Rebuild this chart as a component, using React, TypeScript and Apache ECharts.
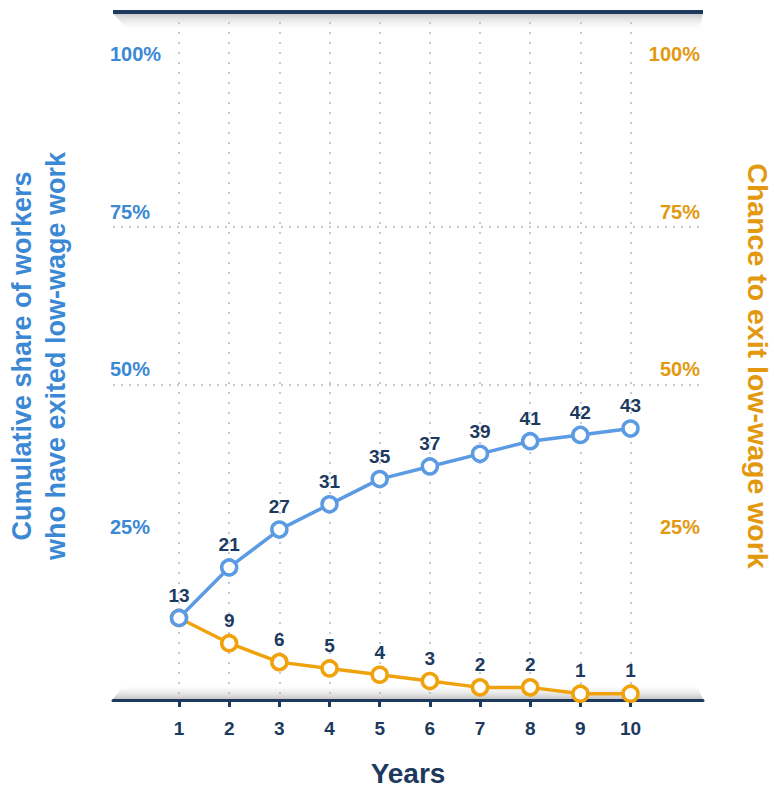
import React, { useEffect, useRef } from "react";
import * as echarts from "echarts";

// Years since entering low-wage work
const years = [1, 2, 3, 4, 5, 6, 7, 8, 9, 10];
// Cumulative share of workers who have exited low-wage work (%)
const cumulativeExit = [13, 21, 27, 31, 35, 37, 39, 41, 42, 43];
// Chance to exit low-wage work in a given year (%)
const chanceToExit = [13, 9, 6, 5, 4, 3, 2, 2, 1, 1];
// Percent gridlines / labels on both vertical axes
const percentTicks = [25, 50, 75, 100];

const NAVY = "#1d3a5e";
const BLUE = "#5b9be3";
const BLUE_TEXT = "#3b88d4";
const ORANGE = "#f0a20c";
const ORANGE_TEXT = "#e3990f";
const GRID_DOT = "#bfcbd8";
const FONT = "'Liberation Sans', Arial, Helvetica, sans-serif";

const GRID = { left: 113, right: 71, top: 12, bottom: 88 };

export default function App() {
  const ref = useRef<HTMLDivElement>(null);

  useEffect(() => {
    if (!ref.current) return;
    const chart = echarts.init(ref.current, undefined, { renderer: "svg" });

    const W = 774;
    const H = 788;
    const x0 = GRID.left;
    const x1 = W - GRID.right;
    const yTop = GRID.top;
    const yBottom = H - GRID.bottom;

    const dataLabel = {
      show: true,
      position: "top" as const,
      distance: 4,
      fontSize: 19,
      fontWeight: "bold" as const,
      fontFamily: FONT,
      color: NAVY,
    };

    const percentLabel = {
      customValues: percentTicks,
      inside: true,
      verticalAlign: "bottom" as const,
      lineHeight: 20,
      padding: [0, 0, 5, 0],
      fontSize: 20,
      fontWeight: "bold" as const,
      fontFamily: FONT,
      formatter: "{value}%",
    };

    chart.setOption({
      animation: false,
      backgroundColor: "#ffffff",
      textStyle: { fontFamily: FONT },
      grid: { ...GRID, containLabel: false, outerBoundsMode: "none" },
      xAxis: {
        type: "value",
        min: -0.316,
        max: 11.445,
        name: "Years",
        nameLocation: "middle",
        nameGap: 59,
        nameTextStyle: {
          fontSize: 28,
          fontWeight: "bold",
          color: NAVY,
          fontFamily: FONT,
          lineHeight: 28,
        },
        axisLine: { show: true, lineStyle: { color: NAVY, width: 3 } },
        axisTick: {
          show: true,
          customValues: years,
          length: 7,
          lineStyle: { color: NAVY, width: 3 },
        },
        axisLabel: {
          customValues: years,
          margin: 19,
          fontSize: 19,
          fontWeight: "bold",
          color: NAVY,
          fontFamily: FONT,
        },
        splitLine: {
          show: true,
          lineStyle: { color: GRID_DOT, width: 2, type: [2, 8] },
        },
      },
      yAxis: [
        {
          type: "value",
          position: "left",
          min: 0,
          max: 109,
          interval: 25,
          name: "Cumulative share of workers\nwho have exited low-wage work",
          nameLocation: "middle",
          nameGap: 40,
          nameRotate: 90,
          nameTextStyle: {
            fontSize: 27,
            fontWeight: "bold",
            color: BLUE_TEXT,
            fontFamily: FONT,
            lineHeight: 34,
            align: "center",
          },
          axisLine: { show: false },
          axisTick: { show: false, customValues: percentTicks },
          axisLabel: { ...percentLabel, margin: -3, color: BLUE_TEXT },
          splitLine: {
            show: true,
            showMinLine: false,
            showMaxLine: false,
            lineStyle: { color: GRID_DOT, width: 2, type: [2, 6] },
          },
        },
        {
          type: "value",
          position: "right",
          min: 0,
          max: 109,
          interval: 25,
          axisLine: { show: false },
          axisTick: { show: false, customValues: percentTicks },
          axisLabel: { ...percentLabel, margin: 3, color: ORANGE_TEXT },
          splitLine: { show: false },
        },
      ],
      graphic: [
        // soft shadow under the top rule
        {
          type: "polygon",
          z: 1,
          silent: true,
          shape: {
            points: [
              [x0, yTop + 1],
              [x1, yTop + 1],
              [x1 - 4, yTop + 20],
              [x0 + 16, yTop + 20],
            ],
          },
          style: {
            fill: new echarts.graphic.LinearGradient(0, 0, 0, 1, [
              { offset: 0, color: "rgba(140,140,140,0.5)" },
              { offset: 1, color: "rgba(255,255,255,0)" },
            ]),
          },
        },
        // top rule
        {
          type: "line",
          z: 10,
          silent: true,
          shape: { x1: x0, y1: yTop, x2: x1, y2: yTop },
          style: { stroke: NAVY, lineWidth: 4 },
        },
        // soft shading above the baseline
        {
          type: "polygon",
          z: 1,
          silent: true,
          shape: {
            points: [
              [x0 + 10, yBottom - 14],
              [x1 - 6, yBottom - 14],
              [x1, yBottom - 1],
              [x0, yBottom - 1],
            ],
          },
          style: {
            fill: new echarts.graphic.LinearGradient(0, 0, 0, 1, [
              { offset: 0, color: "rgba(215,215,215,0)" },
              { offset: 1, color: "rgba(160,160,160,0.6)" },
            ]),
          },
        },
        // right-hand axis title, reading top to bottom
        {
          type: "text",
          z: 10,
          silent: true,
          x: 758,
          y: 366,
          rotation: -Math.PI / 2,
          style: {
            text: "Chance to exit low-wage work",
            align: "center",
            verticalAlign: "middle",
            fontSize: 28.5,
            fontWeight: "bold",
            fontFamily: FONT,
            fill: ORANGE_TEXT,
          },
        },
      ],
      series: [
        {
          name: "Chance to exit low-wage work",
          type: "line",
          yAxisIndex: 0,
          data: years.map((y, i) =>
            i === 0
              ? { value: [y, chanceToExit[i]], label: { show: false } }
              : { value: [y, chanceToExit[i]] }
          ),
          symbol: "circle",
          symbolSize: 15,
          lineStyle: { color: ORANGE, width: 3.5 },
          itemStyle: { color: "#ffffff", borderColor: ORANGE, borderWidth: 3.5 },
          label: dataLabel,
          z: 3,
        },
        {
          name: "Cumulative share of workers who have exited low-wage work",
          type: "line",
          yAxisIndex: 0,
          data: years.map((y, i) => [y, cumulativeExit[i]]),
          symbol: "circle",
          symbolSize: 15,
          lineStyle: { color: BLUE, width: 3.5 },
          itemStyle: { color: "#ffffff", borderColor: BLUE, borderWidth: 3.5 },
          label: dataLabel,
          z: 4,
        },
      ],
    });

    return () => chart.dispose();
  }, []);

  return (
    <div
      ref={ref}
      style={{ position: "absolute", left: 0, top: 0, width: 774, height: 788, background: "#fff" }}
    />
  );
}
